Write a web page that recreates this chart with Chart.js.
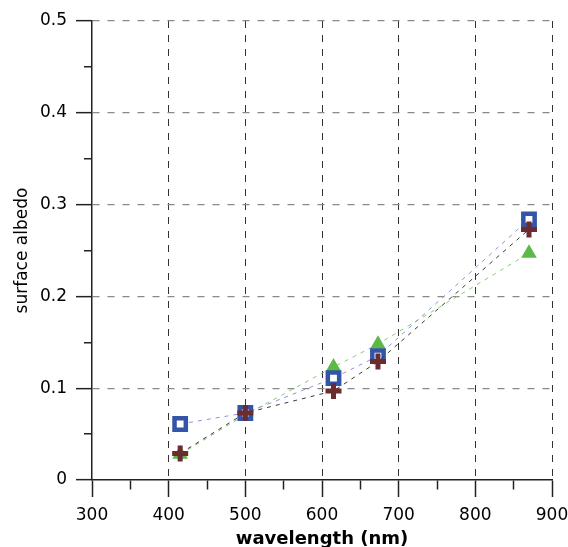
<!DOCTYPE html>
<html>
<head>
<meta charset="utf-8">
<script src="https://cdn.jsdelivr.net/npm/chart.js@4.4.1/dist/chart.umd.min.js"></script>
<style>
  html, body { margin: 0; padding: 0; background: #fff; }
  canvas { display: block; }
</style>
</head>
<body>
<canvas id="albedoChart" width="568" height="547"></canvas>
<script>
// wavelengths (nm) and albedo per series
const wavelengths = [415, 500, 615, 673, 870];
const squareAlbedo = [0.061, 0.073, 0.111, 0.135, 0.284];
const triangleAlbedo = [0.028, 0.071, 0.123, 0.148, 0.247];
const crossAlbedo = [0.029, 0.073, 0.097, 0.129, 0.273];

const xRange = [300, 900];
const yRange = [0, 0.5];

const FONT = "'DejaVu Sans', 'Liberation Sans', Arial, sans-serif";

function toPoints(vals) {
  return wavelengths.map((w, i) => ({ x: w, y: vals[i] }));
}

// major ticks every 100 nm / 0.1, minor in between
function isMajorX(v) { return Math.round(v) % 100 === 0; }
function isMajorY(v) { return Math.round(v * 100) % 10 === 0; }

const ctx = document.getElementById('albedoChart').getContext('2d');

new Chart(ctx, {
  type: 'scatter',
  data: {
    datasets: [
      {
        data: toPoints(crossAlbedo),
        showLine: true,
        borderColor: '#3a3a3a',
        borderWidth: 1,
        borderDash: [4, 5],
        pointStyle: 'cross',
        pointRadius: 8,
        pointBorderWidth: 5,
        pointBorderColor: '#6a2c30',
        pointBackgroundColor: '#6a2c30'
      },
      {
        data: toPoints(squareAlbedo),
        showLine: true,
        borderColor: '#8597d6',
        borderWidth: 1,
        borderDash: [4, 5],
        pointStyle: 'rect',
        pointRadius: 8,
        pointBorderWidth: 4.5,
        pointBorderColor: '#3454a8',
        pointBackgroundColor: '#ffffff'
      },
      {
        data: toPoints(triangleAlbedo),
        showLine: true,
        borderColor: '#86cc70',
        borderWidth: 1,
        borderDash: [4, 5],
        pointStyle: 'triangle',
        pointRadius: 9,
        pointBorderWidth: 0,
        pointBorderColor: '#5cb946',
        pointBackgroundColor: '#5cb946'
      }
    ]
  },
  options: {
    responsive: false,
    animation: false,
    layout: { padding: { top: 21, right: 16, left: 0, bottom: 0 } },
    plugins: {
      legend: { display: false },
      tooltip: { enabled: false }
    },
    scales: {
      x: {
        type: 'linear',
        min: xRange[0],
        max: xRange[1],
        afterFit: (s) => { s.height = 67; s.paddingLeft = 0; s.paddingRight = 0; },
        ticks: {
          stepSize: 50,
          padding: 8,
          color: '#000',
          font: { family: FONT, size: 17 },
          maxRotation: 0,
          autoSkip: false,
          callback: (v) => isMajorX(v) ? String(v) : ''
        },
        grid: {
          color: (c) => (isMajorX(c.tick.value) && c.tick.value !== xRange[0]) ? '#333' : 'rgba(0,0,0,0)',
          lineWidth: 1,
          tickLength: 17,
          tickColor: '#222',
          tickWidth: 1.5,
          tickBorderDash: (c) => isMajorX(c.tick.value) ? [] : [9, 100]
        },
        border: { display: true, color: '#222', width: 1.5, dash: [7, 7] },
        title: {
          display: true,
          text: 'wavelength (nm)',
          color: '#000',
          font: { family: FONT, size: 18, weight: 'bold' },
          padding: { top: 0, bottom: -3 }
        }
      },
      y: {
        type: 'linear',
        min: yRange[0],
        max: yRange[1],
        afterFit: (s) => { s.width = 92; s.paddingTop = 0; s.paddingBottom = 0; },
        ticks: {
          stepSize: 0.05,
          padding: 9,
          color: '#000',
          font: { family: FONT, size: 17 },
          callback: (v) => {
            if (!isMajorY(v)) return '';
            return v === 0 ? '0' : v.toFixed(1);
          }
        },
        grid: {
          color: (c) => (isMajorY(c.tick.value) && c.tick.value !== yRange[0]) ? '#8a8a8a' : 'rgba(0,0,0,0)',
          lineWidth: 1.3,
          tickLength: 16,
          tickColor: '#222',
          tickWidth: 1.5,
          tickBorderDash: (c) => isMajorY(c.tick.value) ? [] : [0, 8, 8, 100]
        },
        border: { display: true, color: '#222', width: 1.5, dash: [7, 8] },
        title: {
          display: true,
          text: 'surface albedo',
          color: '#000',
          font: { family: FONT, size: 17 },
          padding: { top: 12, bottom: 0 }
        }
      }
    }
  }
});
</script>
</body>
</html>
